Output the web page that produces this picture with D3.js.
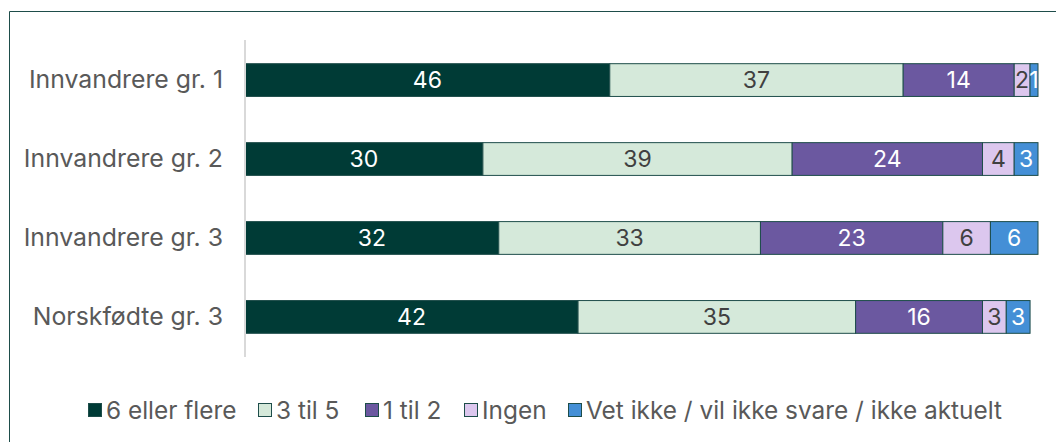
<!DOCTYPE html>
<html>
<head>
<meta charset="utf-8">
<script src="https://cdn.jsdelivr.net/npm/d3@7"></script>
<style>
  body { margin: 0; background: #fff; }
  svg { display: block; font-family: Inter, "Noto Sans", sans-serif; }
</style>
</head>
<body>
<div id="wrapper"></div>
<script>
const categories = ["Innvandrere gr. 1", "Innvandrere gr. 2", "Innvandrere gr. 3", "Norskfødte gr. 3"]
const seriesNames = ["6 eller flere", "3 til 5", "1 til 2", "Ingen", "Vet ikke / vil ikke svare / ikke aktuelt"]
const sixOrMore = [46, 30, 32, 42]
const threeToFive = [37, 39, 33, 35]
const oneToTwo = [14, 24, 23, 16]
const none = [2, 4, 6, 3]
const dontKnow = [1, 3, 6, 3]
const seriesValues = [sixOrMore, threeToFive, oneToTwo, none, dontKnow]

const colors = ["#003b36", "#d5e9da", "#6b58a0", "#dcc7ee", "#448fd6"]
const labelColors = ["#ffffff", "#404040", "#ffffff", "#404040", "#ffffff"]

let dimensions = {
  width: 1056,
  height: 442,
  margin: { top: 40, right: 18, bottom: 85, left: 245 }
}
dimensions.boundedWidth = dimensions.width - dimensions.margin.left - dimensions.margin.right
dimensions.boundedHeight = dimensions.height - dimensions.margin.top - dimensions.margin.bottom

const svg = d3.select("#wrapper")
  .append("svg")
  .attr("width", dimensions.width)
  .attr("height", dimensions.height)

// frame
svg.append("path")
  .attr("d", `M9.5,${dimensions.height} L9.5,11.5 L${dimensions.width},11.5`)
  .attr("fill", "none")
  .attr("stroke", "#1e4d4a")
  .attr("stroke-width", 1)

const bounds = svg.append("g")
  .attr("transform", `translate(${dimensions.margin.left},${dimensions.margin.top})`)

const xScale = d3.scaleLinear()
  .domain([0, 100])
  .range([0, dimensions.boundedWidth])

const yScale = d3.scaleBand()
  .domain(categories)
  .range([0, dimensions.boundedHeight])
  .paddingInner(0.585)
  .paddingOuter(0.3)

// build stacked rows
const rows = categories.map((c, i) => {
  const r = { category: c }
  seriesNames.forEach((s, j) => { r[s] = seriesValues[j][i] })
  return r
})
const stacked = d3.stack().keys(seriesNames)(rows)

const layers = bounds.selectAll(".layer")
  .data(stacked)
  .enter()
  .append("g")
  .attr("class", "layer")
  .attr("fill", (d, i) => colors[i])

layers.selectAll("rect")
  .data(d => d)
  .enter()
  .append("rect")
  .attr("x", d => xScale(d[0]))
  .attr("y", d => yScale(d.data.category))
  .attr("width", d => xScale(d[1]) - xScale(d[0]))
  .attr("height", yScale.bandwidth())
  .attr("stroke", "#1e4d4a")
  .attr("stroke-width", 1)

layers.each(function(layer, i) {
  d3.select(this).selectAll("text")
    .data(layer)
    .enter()
    .append("text")
    .attr("x", d => (xScale(d[0]) + xScale(d[1])) / 2)
    .attr("y", d => yScale(d.data.category) + yScale.bandwidth() / 2)
    .attr("dy", "0.36em")
    .attr("text-anchor", "middle")
    .attr("fill", labelColors[i])
    .attr("font-size", "23px")
    .text(d => d[1] - d[0])
})

// y axis line
bounds.append("line")
  .attr("x1", 0).attr("x2", 0)
  .attr("y1", 0).attr("y2", dimensions.boundedHeight)
  .attr("stroke", "#d9d9d9")
  .attr("stroke-width", 2)

const yAxisGen = d3.axisLeft(yScale).tickSize(0).tickPadding(22)
const yAxis = bounds.append("g").call(yAxisGen)
yAxis.select(".domain").remove()
yAxis.selectAll("text")
  .attr("font-size", "24.8px")
  .attr("fill", "#595959")
  .attr("font-family", "Inter, 'Noto Sans', sans-serif")

// legend
const legendX = [88, 258, 365, 464, 568]
const legend = svg.append("g")
  .attr("transform", "translate(0,410)")
const items = legend.selectAll("g")
  .data(seriesNames)
  .enter()
  .append("g")
  .attr("transform", (d, i) => `translate(${legendX[i]},0)`)
items.append("rect")
  .attr("x", 0.5).attr("y", -6.5)
  .attr("width", 13).attr("height", 13)
  .attr("fill", (d, i) => colors[i])
  .attr("stroke", "#1e4d4a")
  .attr("stroke-width", 1)
items.append("text")
  .attr("x", 18)
  .attr("dy", "0.36em")
  .attr("font-size", "24.4px")
  .attr("fill", "#595959")
  .text(d => d)
</script>
</body>
</html>
